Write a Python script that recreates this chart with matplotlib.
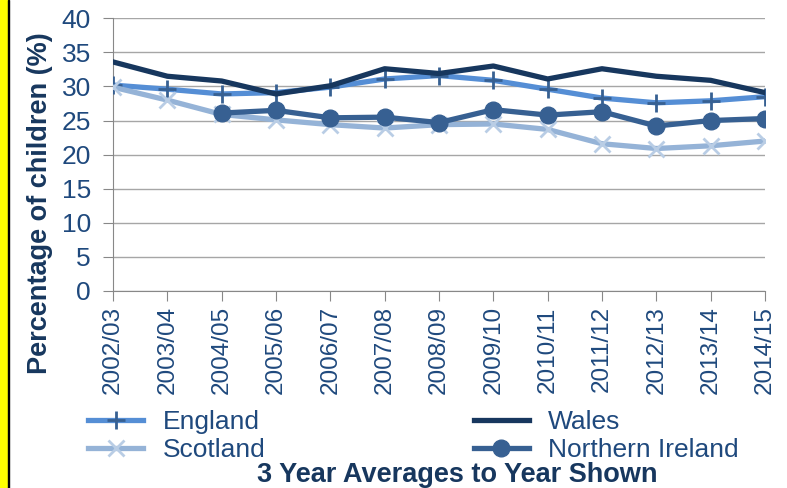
import matplotlib.pyplot as plt
from matplotlib.patches import Rectangle

years = ["2002/03", "2003/04", "2004/05", "2005/06", "2006/07", "2007/08", "2008/09",
         "2009/10", "2010/11", "2011/12", "2012/13", "2013/14", "2014/15"]
england = [30.2, 29.6, 28.9, 29.1, 29.9, 31.1, 31.6, 30.9, 29.6, 28.3, 27.6, 27.9, 28.5]
wales = [33.6, 31.5, 30.8, 28.9, 30.1, 32.6, 31.9, 33.0, 31.1, 32.6, 31.5, 30.9, 29.1]
scotland = [29.9, 28.0, 25.9, 25.1, 24.4, 23.9, 24.4, 24.5, 23.7, 21.6, 20.9, 21.3, 22.0]
ni_years = years[2:]
nireland = [26.1, 26.5, 25.4, 25.5, 24.7, 26.6, 25.8, 26.3, 24.2, 25.0, 25.3]

plt.rcParams["font.family"] = ["Liberation Sans", "DejaVu Sans"]

fig = plt.figure(figsize=(7.87, 4.88), dpi=100)
ax = fig.add_axes([0.1436, 0.4037, 0.8284, 0.5588])

x = list(range(len(years)))
xn = [years.index(y) for y in ni_years]

l_eng, = ax.plot(x, england, color="#558ED5", lw=3.8, marker="+", ms=13, mew=2,
                 mec="#376092", label="England", zorder=3)
l_sco, = ax.plot(x, scotland, color="#95B3D7", lw=3.8, marker="x", ms=11, mew=2,
                 mec="#B9CDE5", label="Scotland", zorder=3)
l_wal, = ax.plot(x, wales, color="#17375E", lw=3.8, label="Wales", zorder=4)
l_ni, = ax.plot(xn, nireland, color="#376092", lw=3.8, marker="o", ms=12,
                label="Northern Ireland", zorder=3)

ax.set_xlim(0, 12)
ax.set_ylim(0, 40)
ax.set_yticks(range(0, 41, 5))
ax.set_xticks(x)
ax.set_xticklabels(years, rotation=90)
ax.grid(axis="y", color="#A6A6A6", lw=1)
ax.set_axisbelow(True)
for s in ["top", "right"]:
    ax.spines[s].set_visible(False)
for s in ["left", "bottom"]:
    ax.spines[s].set_color("#888888")
ax.tick_params(axis="both", colors="#888888", labelcolor="#1F497D", length=7)
ax.tick_params(axis="y", labelsize=19, pad=9)
ax.tick_params(axis="x", labelsize=17.5, pad=4)

fig.text(40 / 787, 1 - 203 / 488, "Percentage of children (%)", rotation=90,
         ha="center", va="center", fontsize=19.5, fontweight="bold", color="#17375E")

fig.legend(handles=[l_eng, l_sco, l_wal, l_ni], loc="upper left",
           bbox_to_anchor=(88 / 787, 1 - 410 / 488), ncol=2, frameon=False, fontsize=19,
           labelcolor="#1F497D", handlelength=2.1, handletextpad=0.72,
           columnspacing=7.9, labelspacing=0.15, borderaxespad=0, borderpad=0)

fig.text(457 / 787, 1 - 475 / 488, "3 Year Averages to Year Shown", ha="center",
         va="center", fontsize=19.5, fontweight="bold", color="#17375E")

fig.patches.append(Rectangle((0, 0), 7.5 / 787, 1, transform=fig.transFigure,
                             color="#FFFF00", zorder=0))
fig.patches.append(Rectangle((7.5 / 787, 0), 1.2 / 787, 1, transform=fig.transFigure,
                             color="#000000", zorder=0))

fig.savefig("out.png", dpi=100)
